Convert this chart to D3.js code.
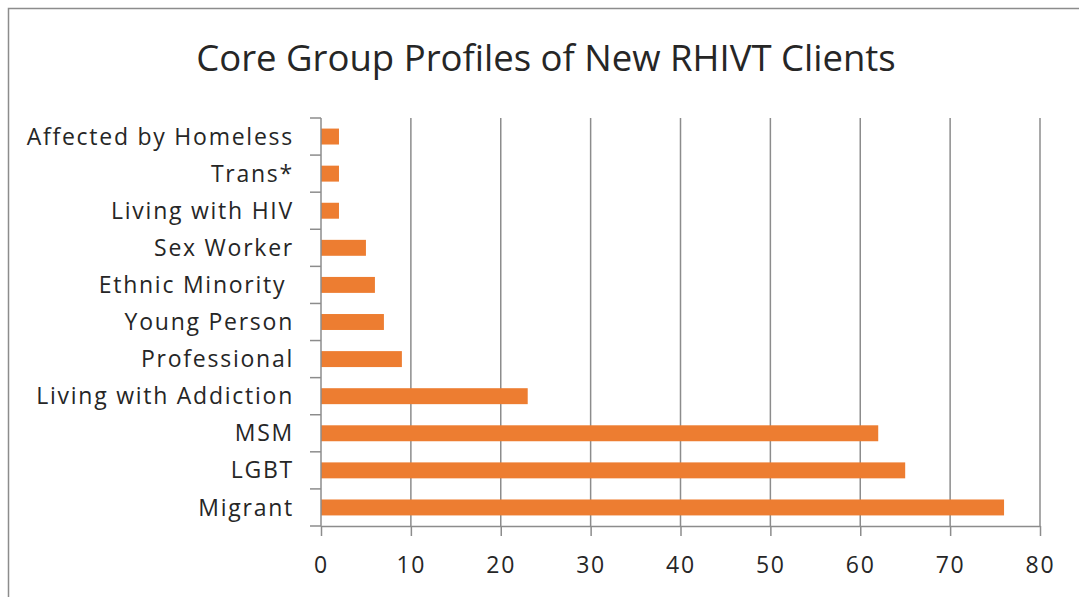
<!DOCTYPE html>
<html>
<head>
<meta charset="utf-8">
<script src="https://cdn.jsdelivr.net/npm/d3@7"></script>
<style>
  body { margin: 0; background: #fff; }
  svg text { font-family: "Open Sans", Lato, sans-serif; fill: #262626; white-space: pre; }
</style>
</head>
<body>
<div id="chart"></div>
<script>
// categories from top to bottom, as in the picture
var categorias = ["Affected by Homeless", "Trans*", "Living with HIV", "Sex Worker",
    "Ethnic Minority ", "Young Person", "Professional", "Living with Addiction",
    "MSM", "LGBT", "Migrant"];
var valores = [2, 2, 2, 5, 6, 7, 9, 23, 62, 65, 76];
var ticksX = [0, 10, 20, 30, 40, 50, 60, 70, 80];
var titulo = "Core Group Profiles of New RHIVT Clients";

var ancho = 1079, alto = 597;
var margen = { top: 118, left: 321, right: 39, bottom: 71 };

var svg = d3.select("#chart").append("svg")
    .attr("width", ancho)
    .attr("height", alto);

// marco del grafico (solo se ven arriba e izquierda)
svg.append("path")
    .attr("d", "M8.5," + alto + "V8.5H" + ancho)
    .attr("fill", "none")
    .attr("stroke", "#8c8c8c")
    .attr("stroke-width", 1.5);

svg.append("text")
    .attr("x", 546)
    .attr("y", 71)
    .attr("text-anchor", "middle")
    .style("font-size", "36.5px")
    .text(titulo);

var x = d3.scaleLinear()
    .domain([0, 80])
    .range([margen.left, ancho - margen.right]);

var y = d3.scaleBand()
    .domain(categorias)
    .range([margen.top, alto - margen.bottom])
    .paddingInner(0.57)
    .paddingOuter(0.285);

// lineas de la grilla
svg.append("g")
    .selectAll("line")
    .data(ticksX.slice(1))
    .join("line")
    .attr("x1", d => x(d))
    .attr("x2", d => x(d))
    .attr("y1", margen.top)
    .attr("y2", alto - margen.bottom)
    .attr("stroke", "#8c8c8c")
    .attr("stroke-width", 1.5);

// barras
svg.append("g")
    .selectAll("rect")
    .data(categorias)
    .join("rect")
    .attr("x", x(0))
    .attr("y", d => y(d))
    .attr("width", (d, i) => x(valores[i]) - x(0))
    .attr("height", y.bandwidth())
    .attr("fill", "#ED7D31");

// eje x
var ejeX = svg.append("g")
    .attr("transform", "translate(0," + (alto - margen.bottom) + ")")
    .call(d3.axisBottom(x).tickValues(ticksX).tickSize(10).tickPadding(21).tickSizeOuter(0));
ejeX.select(".domain").attr("stroke", "#8c8c8c").attr("stroke-width", 1.5);
ejeX.selectAll(".tick line").attr("stroke", "#8c8c8c").attr("stroke-width", 1.5);
ejeX.selectAll(".tick text").style("font-size", "23px").style("letter-spacing", "1.75px");

// eje y: marcas entre categorias
var limites = d3.range(categorias.length + 1).map(i => margen.top + i * y.step());
var ejeY = svg.append("g");
ejeY.append("line")
    .attr("x1", margen.left).attr("x2", margen.left)
    .attr("y1", margen.top).attr("y2", alto - margen.bottom)
    .attr("stroke", "#8c8c8c").attr("stroke-width", 1.5);
ejeY.selectAll(".marca")
    .data(limites)
    .join("line")
    .attr("class", "marca")
    .attr("x1", margen.left - 11).attr("x2", margen.left)
    .attr("y1", d => d).attr("y2", d => d)
    .attr("stroke", "#8c8c8c").attr("stroke-width", 1.5);
ejeY.selectAll("text")
    .data(categorias)
    .join("text")
    .attr("x", margen.left - 27)
    .attr("y", d => y(d) + y.bandwidth() / 2)
    .attr("dy", "0.35em")
    .attr("text-anchor", "end")
    .style("font-size", "23px")
    .style("letter-spacing", "1.75px")
    .text(d => d);
</script>
</body>
</html>
